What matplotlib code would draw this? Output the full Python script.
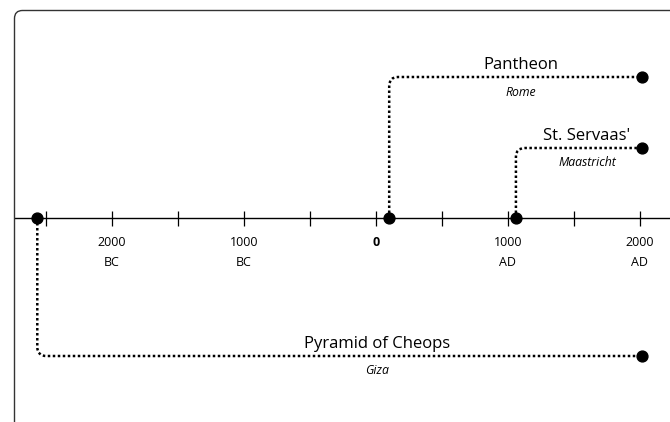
import matplotlib
matplotlib.use("Agg")
import matplotlib.pyplot as plt
from matplotlib.patches import FancyArrowPatch, FancyBboxPatch
from matplotlib.transforms import IdentityTransform

# data
buildings = ["Pantheon", "St. Servaas'", "Pyramid of Cheops"]
places = ["Rome", "Maastricht", "Giza"]
built_year = [100, 1060, -2566]
today = 2015
tick_years = [-2500, -2000, -1500, -1000, -500, 0, 500, 1000, 1500, 2000]
labelled_years = [-2000, -1000, 0, 1000, 2000]
era_labels = ["BC", "BC", "", "AD", "AD"]

# layout (y in pixels from top, label centres in years)
levels = [77, 148, 356]
label_x = [1098, 1598, 8]
axis_y = 218

plt.rcParams['font.family'] = ['Open Sans', 'DejaVu Sans']


def main():
    fig = plt.figure(figsize=(6.7, 4.22), dpi=100)
    ax = fig.add_axes([0, 0, 1, 1])
    # 0.132 px per year, year 0 at 376 px
    ax.set_xlim(-376 / 0.132, (670 - 376) / 0.132)
    ax.set_ylim(422, 0)
    ax.axis('off')

    # rounded frame, cut off at the right and bottom
    box = FancyBboxPatch((14.5, -40), 720, 451.5,
                         boxstyle="round,pad=0,rounding_size=8",
                         transform=IdentityTransform(),
                         facecolor='none', edgecolor='#333333', lw=1.0)
    fig.add_artist(box)

    # time axis
    ax.axhline(axis_y, xmin=14.5 / 670, xmax=1, color='black', lw=1.0)
    ax.vlines(tick_years, axis_y - 7, axis_y + 8, color='black', lw=0.9)
    for yr, era in zip(labelled_years, era_labels):
        if yr == 0:
            ax.text(yr, 243, "0", ha='center', va='center',
                    fontsize=9, fontweight='bold')
        else:
            ax.text(yr, 243, str(abs(yr)), ha='center', va='center', fontsize=9)
            ax.text(yr, 262, era, ha='center', va='center', fontsize=9)

    # connectors
    for name, place, yr, lev, lx in zip(buildings, places, built_year, levels, label_x):
        con = FancyArrowPatch((yr, axis_y), (today, lev),
                              connectionstyle="angle,angleA=90,angleB=0,rad=9",
                              arrowstyle='-', shrinkA=0, shrinkB=0,
                              linestyle=(0, (1.0, 1.0)), lw=1.8,
                              capstyle='butt', color='black', zorder=2)
        ax.add_patch(con)
        ax.plot([yr, today], [axis_y, lev], 'o', color='black', ms=7.8, zorder=3)
        ax.text(lx, lev - 12, name, ha='center', va='center', fontsize=12)
        ax.text(lx, lev + 15, place, ha='center', va='center',
                fontsize=8.8, style='italic')

    fig.savefig("out.png", dpi=100)


if __name__ == "__main__":
    main()
